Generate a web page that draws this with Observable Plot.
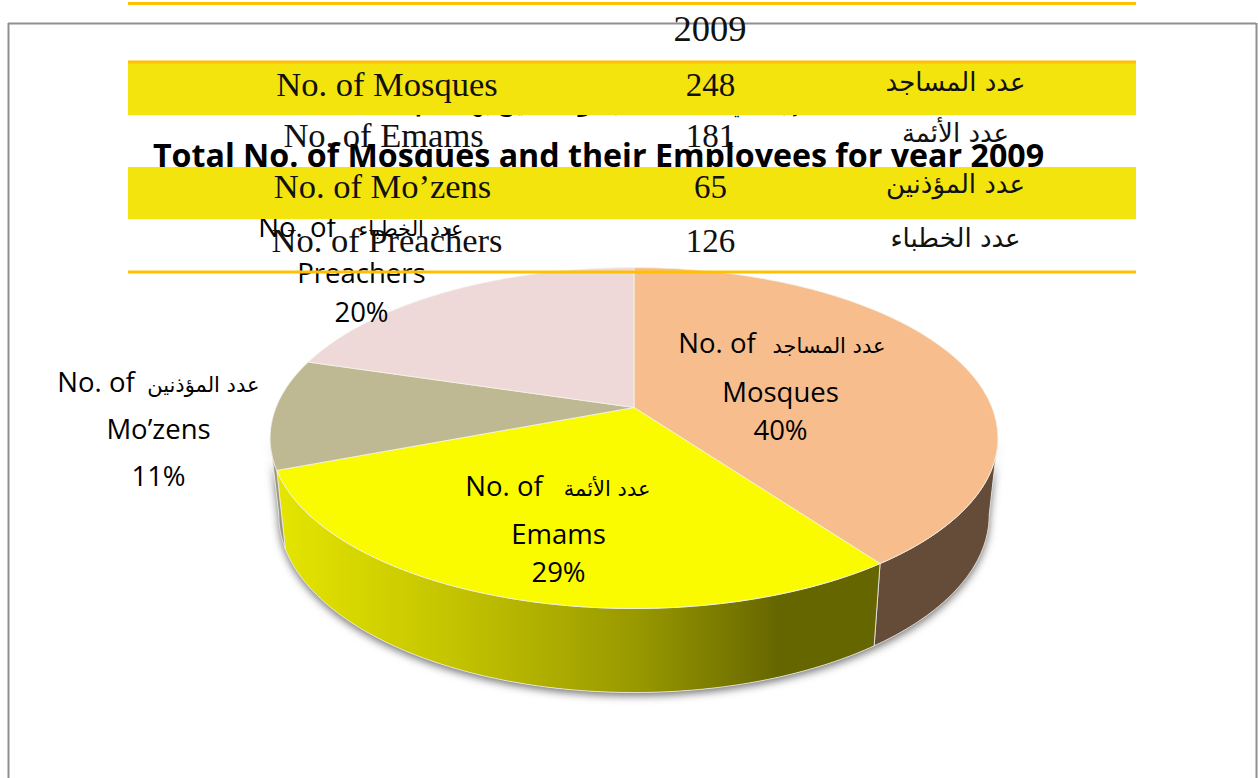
<!DOCTYPE html>
<html><head><meta charset="utf-8">
<script src="https://cdn.jsdelivr.net/npm/d3@7"></script>
<script src="https://cdn.jsdelivr.net/npm/@observablehq/plot@0.6"></script>
<style>html,body{margin:0;padding:0;background:#fff;overflow:hidden}svg{display:block}</style>
</head><body><div id="chart"></div>
<script>
// ---- data ----
const categories = ["No. of Mosques", "No. of Emams", "No. of Mo’zens", "No. of Preachers"];
const categoriesAr = ["عدد المساجد", "عدد الأئمة", "عدد المؤذنين", "عدد الخطباء"];
const shortNames = ["Mosques", "Emams", "Mo’zens", "Preachers"];
const values = [248, 181, 65, 126];
const percentLabels = ["40%", "29%", "11%", "20%"];
const yearLabel = "2009";
const chartTitle = "Total No. of Mosques and their Employees for year 2009";
const chartTitleAr = "إجمالي عدد المساجد والعاملين بها لعام 2009";
const sliceColors = ["#F7BD8D", "#FBFB00", "#BFB993", "#EFD9D8"];

// ---- layout ----
const W = 1258, H = 778;
const disc = {cx: 633.5, cy: 407, rx: 358, ry: 165, k: 0.179, dropY: 76, sx: 0.976, sy: 1.04};
const tableX = [128, 1136];
const colX = [387, 710, 955];
const rowTop = 63, rowH = 52;
const rowNudge = [{x: -0.5, y: 0}, {x: -4, y: -1}, {x: -5, y: -2}, {x: -0.5, y: 0}];
const labelAt = [
  {x: 780, a: 344, ad: 346, b: 393, c: 431, no: 716.5, arEnd: 885},
  {x: 558, a: 487, ad: 489, b: 535, c: 573, no: 503.5, arEnd: 650},
  {x: 158, a: 383, ad: 385, b: 430, c: 477, no: 95.5, arEnd: 259},
  {x: 361, a: 228, ad: 229, b: 274, c: 313, no: 296.5, arEnd: 463}
];

// ---- projection of the disc (perspective) ----
function topPt(t) {
  const u = Math.sin(t), v = -Math.cos(t), d = 1 - disc.k * v;
  return [disc.cx + disc.rx * u / d, disc.cy + disc.ry * v / d];
}
function botPt(t) {
  const [x, y] = topPt(t);
  return [disc.cx + (x - disc.cx) * disc.sx, disc.cy + disc.dropY + (y - disc.cy) * disc.sy];
}
const arc = (f, a, b) => d3.range(0, 121).map(i => f(a + (b - a) * i / 120));

const arcs = d3.pie().sort(null)(values);
const slices = arcs.map(a => [[disc.cx, disc.cy], ...arc(topPt, a.startAngle, a.endAngle), [disc.cx, disc.cy]]);
const silR = Math.acos(-disc.k), silL = 2 * Math.PI - silR;
const side = (a, b) => {
  const p = [...arc(topPt, a, b), ...arc(botPt, b, a)];
  return [...p, p[0]];
};
const sides = [
  side(silR, arcs[0].endAngle),
  side(arcs[1].startAngle, arcs[1].endAngle),
  side(arcs[2].startAngle, silL)
];
const sideFills = ["#654C39", "url(#yellowSide)", "#9B9679"];
const wholeSide = side(silR, silL);

const gradient = () => {
  const svg = d3.create("svg:defs");
  const g = svg.append("linearGradient").attr("id", "yellowSide")
    .attr("gradientUnits", "userSpaceOnUse").attr("x1", 283).attr("x2", 873).attr("y1", 0).attr("y2", 0);
  [[0, "#E4E400"], [0.3, "#C2C200"], [0.6, "#989800"], [0.84, "#666600"], [1, "#666600"]]
    .forEach(([o, c]) => g.append("stop").attr("offset", o).attr("stop-color", c));
  return svg.node();
};

const sans = "'Open Sans'", serif = "'Liberation Serif'", ar = "'DejaVu Sans'";
const P = (pts, opts) => Plot.line(pts, {x: d => d[0], y: d => d[1], curve: "linear", ...opts});

// table rows
const rows = categories.map((c, i) => ({c, ar: categoriesAr[i], v: values[i], i, y: rowTop + rowH * i + 22 + rowNudge[i].y, dx: rowNudge[i].x}));
const bandRows = rows.filter(d => d.i % 2 === 0);
const rules = [3, 61.5, 271.5];

const marks = [
  gradient,
  // chart frame
  Plot.ruleX([8, 1256], {y1: 23, y2: H, stroke: "#8f8f8f", strokeWidth: 2}),
  Plot.ruleY([23], {x1: 8, x2: 1256, stroke: "#8f8f8f", strokeWidth: 2}),
  // chart titles
  Plot.text([chartTitleAr], {x: 575, y: 105, text: d => d, fontFamily: ar, fontSize: 20, fontWeight: "bold", fill: "#000"}),
  // side + shadow
  P(wholeSide, {fill: "#fff", stroke: "none", imageFilter: "drop-shadow(0px 3px 4px rgba(50,50,50,0.7))"}),
  ...sides.map((s, i) => P(s, {fill: sideFills[i], stroke: "#ededed", strokeWidth: 0.8})),
  // top faces
  ...slices.map((s, i) => P(s, {fill: sliceColors[i], stroke: "#f4f4ea", strokeWidth: 0.8})),
  // slice labels
  Plot.text(labelAt, {x: "no", y: "a", text: () => "No. of", fontFamily: sans, fontSize: 27.5, fill: "#000"}),
  Plot.text(labelAt, {x: "arEnd", y: "ad", text: (d, i) => categoriesAr[i], textAnchor: "end", fontFamily: ar, fontSize: 21, fill: "#000"}),
  Plot.text(labelAt, {x: "x", y: "b", text: (d, i) => shortNames[i], fontFamily: sans, fontSize: 27.5, fill: "#000"}),
  Plot.text(labelAt, {x: "x", y: "c", text: (d, i) => percentLabels[i], fontFamily: sans, fontSize: 27.5, fill: "#000"}),
  Plot.text([chartTitle], {x: 598, y: 156, text: d => d, fontFamily: sans, fontSize: 32.2, fontWeight: "bold", fill: "#000"}),
  // table (on top of the chart)
  Plot.rect(bandRows, {x1: tableX[0], x2: tableX[1], y1: d => rowTop + rowH * d.i, y2: d => rowTop + rowH * (d.i + 1), fill: "#F4E40E"}),
  Plot.ruleY(rules, {x1: tableX[0], x2: tableX[1], stroke: "#FFC000", strokeWidth: 3}),
  Plot.text([yearLabel], {x: colX[1] - 0.5, y: 29, text: d => d, fontFamily: serif, fontSize: 36.5, fill: "#111"}),
  Plot.text(rows, {x: d => colX[0] + d.dx, y: d => d.y - 1, text: "c", fontFamily: serif, fontSize: 34.5, fill: "#111"}),
  Plot.text(rows, {x: colX[1], y: "y", text: "v", fontFamily: serif, fontSize: 33, fill: "#111"}),
  Plot.text(rows, {x: colX[2], y: d => d.y - 2.5, text: "ar", fontFamily: ar, fontSize: 26, fill: "#111"})
];

const chart = Plot.plot({
  width: W, height: H, margin: 0,
  x: {type: "linear", domain: [0, W], range: [0, W], axis: null},
  y: {type: "linear", domain: [0, H], range: [0, H], axis: null},
  style: {background: "#fff"},
  marks
});
document.getElementById("chart").append(chart);
</script></body></html>
